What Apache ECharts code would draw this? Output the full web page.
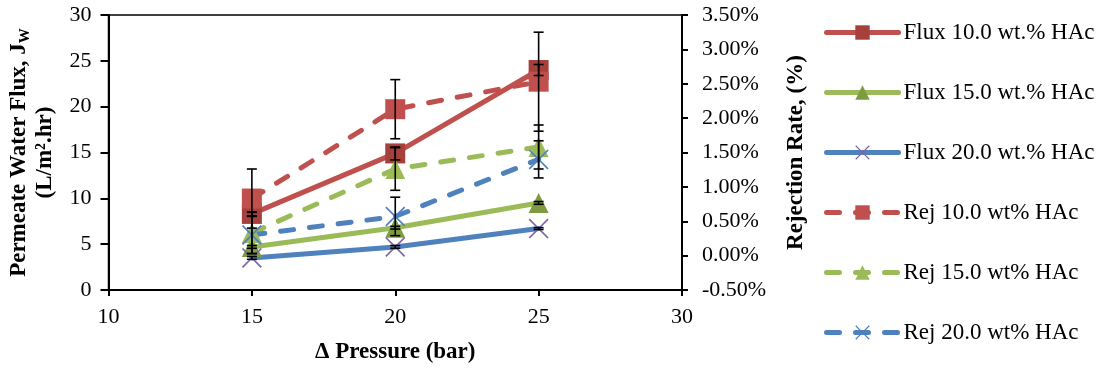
<!DOCTYPE html>
<html>
<head>
<meta charset="utf-8">
<script src="https://cdn.jsdelivr.net/npm/echarts@6/dist/echarts.min.js"></script>
<style>
  html, body { margin: 0; padding: 0; background: #fff; }
  #chart { width: 1110px; height: 372px; }
</style>
</head>
<body>
<div id="chart"></div>
<script>
// pressure (bar)
const pressure = [15, 20, 25];

// permeate flux, L/m2.hr (left axis)
const flux10 = [8.3, 14.9, 24.0];
const flux15 = [4.7, 6.8, 9.5];
const flux20 = [3.5, 4.7, 6.7];
const flux10Err = [0.2, 0.7, 0.6];
const flux15Err = [0.15, 0.15, 0.15];
const flux20Err = [0.15, 0.15, 0.1];

// rejection rate, % (right axis)
const rej10 = [0.83, 2.13, 2.53];
const rej15 = [0.33, 1.26, 1.58];
const rej20 = [0.30, 0.57, 1.40];
const rej10Err = [0.43, 0.43, 0.72];
const rej15Err = [0.30, 0.31, 0.32];
const rej20Err = [0.27, 0.28, 0.27];

const seriesNames = [
  'Flux 10.0 wt.% HAc', 'Flux 15.0 wt.% HAc', 'Flux 20.0 wt.% HAc',
  'Rej 10.0 wt% HAc', 'Rej 15.0 wt% HAc', 'Rej 20.0 wt% HAc'
];

const RED = '#C0504D', GREEN = '#9BBB59', BLUE = '#4F81BD';
const FONT = '"Liberation Serif", "Times New Roman", serif';
const CROSS = 'path://M0,1.2L1.2,0L10,8.8L18.8,0L20,1.2L11.2,10L20,18.8L18.8,20L10,11.2L1.2,20L0,18.8L8.8,10Z';

const pairs = (ys) => pressure.map((x, i) => [x, ys[i]]);
const errPairs = (ys, es) => pressure.map((x, i) => [x, ys[i], es[i]]);

function lineSeries(name, ys, axis, color, markColor, symbol, dashed) {
  return {
    name: name,
    type: 'line',
    yAxisIndex: axis,
    data: pairs(ys),
    symbol: symbol,
    symbolSize: 20,
    showSymbol: true,
    lineStyle: { color: color, width: 5, type: dashed ? [13, 16] : 'solid', cap: 'round' },
    itemStyle: { color: markColor, opacity: 1 },
    z: axis === 1 ? 3 : 2,
    animation: false
  };
}

function errorBars(params, api) {
  const x = api.value(0), y = api.value(1), e = api.value(2);
  const top = api.coord([x, y + e]);
  const bot = api.coord([x, y - e]);
  const hw = 5;
  const st = { stroke: '#000', lineWidth: 1.6 };
  return {
    type: 'group',
    children: [
      { type: 'line', shape: { x1: top[0], y1: top[1], x2: bot[0], y2: bot[1] }, style: st },
      { type: 'line', shape: { x1: top[0] - hw, y1: top[1], x2: top[0] + hw, y2: top[1] }, style: st },
      { type: 'line', shape: { x1: bot[0] - hw, y1: bot[1], x2: bot[0] + hw, y2: bot[1] }, style: st }
    ]
  };
}

function errSeries(data, axis) {
  return {
    type: 'custom',
    yAxisIndex: axis,
    renderItem: errorBars,
    data: data,
    z: 10,
    silent: true,
    animation: false
  };
}

const chart = echarts.init(document.getElementById('chart'));

const option = {
  backgroundColor: '#fff',
  animation: false,
  textStyle: { fontFamily: FONT, color: '#000' },
  grid: {
    left: 108, right: 428, top: 15, bottom: 82,
    show: true, borderColor: '#000', borderWidth: 1.5
  },
  legend: {
    orient: 'vertical',
    left: 819,
    top: 16,
    itemWidth: 72,
    itemHeight: 18,
    itemGap: 37,
    data: seriesNames,
    lineStyle: { width: 5, cap: 'round' },
    textStyle: { fontFamily: FONT, fontSize: 23, color: '#000' }
  },
  xAxis: {
    type: 'value',
    min: 10, max: 30, interval: 5,
    name: '\u0394 Pressure (bar)',
    nameLocation: 'middle',
    nameGap: 51,
    nameTextStyle: { fontFamily: FONT, fontSize: 23, fontWeight: 'bold', color: '#000' },
    splitLine: { show: false },
    axisLine: { onZero: false, lineStyle: { color: '#000', width: 2 } },
    axisTick: { show: true, length: 6, lineStyle: { color: '#000', width: 2 } },
    axisLabel: { fontFamily: FONT, fontSize: 22, color: '#000', margin: 16 }
  },
  yAxis: [
    {
      type: 'value',
      min: 0, max: 30, interval: 5,
      name: '{b|Permeate Water Flux, J}{s|W}\n{b|(L/m\u00B2.hr)}',
      nameLocation: 'middle',
      nameRotate: 90,
      nameGap: 50,
      nameTextStyle: {
        fontFamily: FONT, color: '#000',
        rich: {
          b: { fontFamily: FONT, fontSize: 23, fontWeight: 'bold', color: '#000', lineHeight: 26 },
          s: { fontFamily: FONT, fontSize: 15, fontWeight: 'bold', color: '#000', verticalAlign: 'bottom', lineHeight: 26 }
        }
      },
      splitLine: { show: false },
      axisLine: { show: true, onZero: false, lineStyle: { color: '#000', width: 2 } },
      axisTick: { show: true, length: 8, lineStyle: { color: '#000', width: 2 } },
      axisLabel: { fontFamily: FONT, fontSize: 22, color: '#000', margin: 17 }
    },
    {
      type: 'value',
      position: 'right',
      min: -0.5, max: 3.5, interval: 0.5,
      name: 'Rejection Rate, (%)',
      nameLocation: 'middle',
      nameRotate: 90,
      nameGap: 103,
      nameTextStyle: { fontFamily: FONT, fontSize: 23, fontWeight: 'bold', color: '#000' },
      splitLine: { show: false },
      axisLine: { show: true, onZero: false, lineStyle: { color: '#000', width: 2 } },
      axisTick: { show: true, length: 6, lineStyle: { color: '#000', width: 2 } },
      axisLabel: {
        fontFamily: FONT, fontSize: 22, color: '#000', margin: 20,
        formatter: (v) => v.toFixed(2) + '%'
      }
    }
  ],
  series: [
    lineSeries(seriesNames[0], flux10, 0, RED, '#A5403D', 'rect', false),
    lineSeries(seriesNames[1], flux15, 0, GREEN, '#7E9B3F', 'triangle', false),
    lineSeries(seriesNames[2], flux20, 0, BLUE, '#8064A2', CROSS, false),
    lineSeries(seriesNames[3], rej10, 1, RED, RED, 'rect', true),
    lineSeries(seriesNames[4], rej15, 1, GREEN, GREEN, 'triangle', true),
    lineSeries(seriesNames[5], rej20, 1, BLUE, BLUE, CROSS, true),
    errSeries(errPairs(flux10, flux10Err).concat(errPairs(flux15, flux15Err), errPairs(flux20, flux20Err)), 0),
    errSeries(errPairs(rej10, rej10Err).concat(errPairs(rej15, rej15Err), errPairs(rej20, rej20Err)), 1)
  ]
};

chart.setOption(option);
</script>
</body>
</html>
